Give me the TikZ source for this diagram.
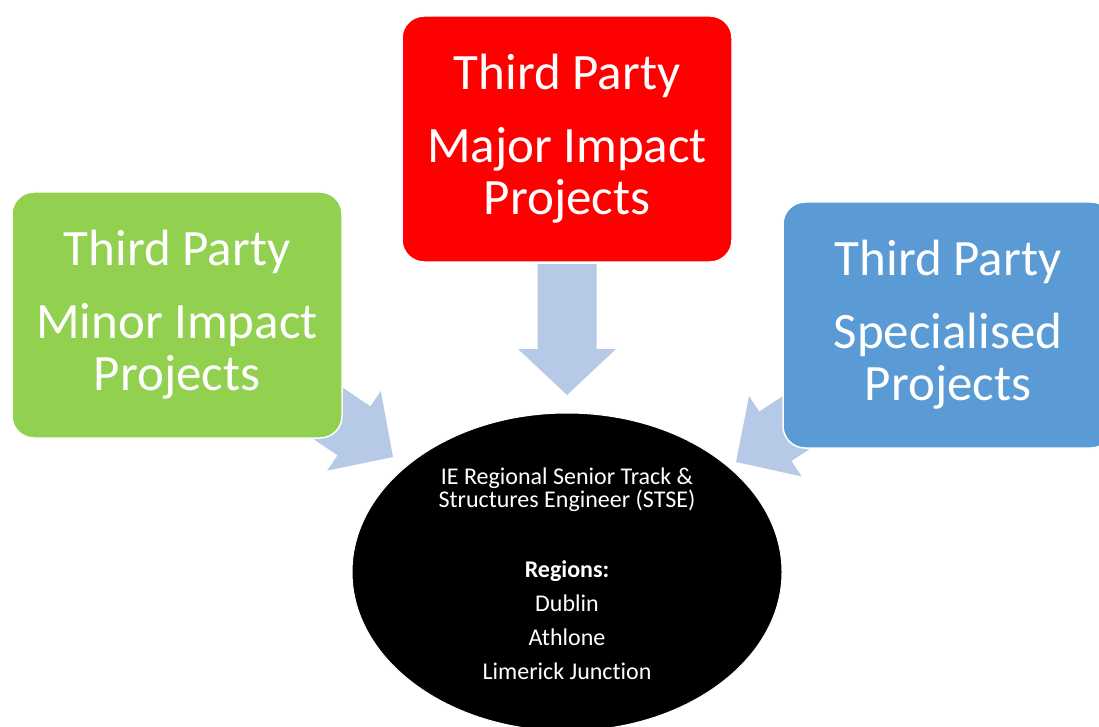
\documentclass[tikz,border=0pt]{standalone}
\usepackage{fontspec}
\setmainfont[Ligatures={NoCommon}]{Carlito}
\usetikzlibrary{shapes.geometric}
\definecolor{cgreen}{RGB}{146,208,80}
\definecolor{cred}{RGB}{255,0,0}
\definecolor{cblue}{RGB}{91,155,213}
\definecolor{carrow}{RGB}{182,202,232}
\tikzset{
  boxnode/.style={rectangle, rounded corners=22pt, draw=white, line width=1.5pt,
    minimum width=330pt, minimum height=246pt, inner sep=0pt, text=white,
    align=center, font=\fontsize{51}{52}\selectfont},
  ellnode/.style={ellipse, fill=black, draw=white, line width=1pt, minimum width=430pt,
    minimum height=318pt, inner sep=0pt},
  blockarrow/.style={fill=carrow, draw=none},
}
\begin{document}
\begin{tikzpicture}[x=1pt,y=-1pt]
\clip (0,0) rectangle (1099,727);
\useasboundingbox (0,0) rectangle (1099,727);
% arrows
\coordinate (tipL) at (393,457);
\coordinate (tipM) at (567,395);
\coordinate (tipR) at (736,462);
\begin{scope}[shift={(tipM)}, rotate=-90]
  \fill[blockarrow] (0,0) -- (-46,-49) -- (-46,-29.5) -- (-131,-29.5) -- (-131,29.5) -- (-46,29.5) -- (-46,49) -- cycle;
\end{scope}
\begin{scope}[shift={(tipL)}, rotate=-33.9]
  \fill[blockarrow] (0,0) -- (-47,-48) -- (-47,-29.5) -- (-131,-29.5) -- (-131,29.5) -- (-47,29.5) -- (-47,48) -- cycle;
\end{scope}
\begin{scope}[shift={(tipR)}, rotate=-146.8]
  \fill[blockarrow] (0,0) -- (-47,-48) -- (-47,-29.5) -- (-131,-29.5) -- (-131,29.5) -- (-47,29.5) -- (-47,48) -- cycle;
\end{scope}
% boxes
\node[boxnode, fill=cgreen] (minor) at (177,315) {Third Party\\[21pt]Minor Impact\\Projects};
\node[boxnode, fill=cred] (major) at (567,139) {Third Party\\[21pt]Major Impact\\Projects};
\node[boxnode, fill=cblue, minimum width=330pt] (spec) at (948,325) {Third Party\\[21pt]Specialised\\Projects};
% ellipse
\node[ellnode] (stse) at (567,572) {};
\node[text=white, align=center, font=\fontsize{24}{23}\selectfont] (stsetext) at (567,573.5)
  {IE Regional Senior Track \&\\Structures Engineer (STSE)\\[47pt]\textbf{Regions:}\\[11pt]Dublin\\[11pt]Athlone\\[11pt]Limerick Junction};
\end{tikzpicture}
\end{document}
